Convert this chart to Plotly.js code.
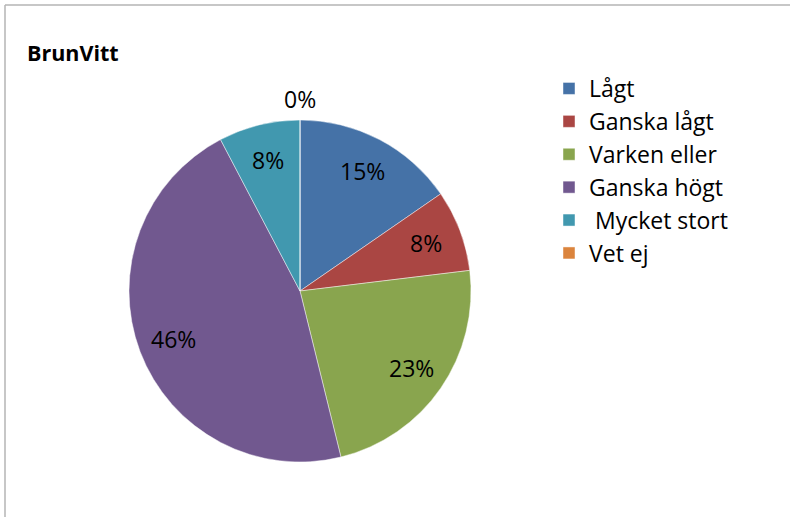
<!DOCTYPE html>
<html>
<head>
<meta charset="utf-8">
<script src="https://cdn.plot.ly/plotly-3.0.1.min.js"></script>
<style>
html,body{margin:0;padding:0;background:#fff;}
#chart{width:790px;height:517px;}
</style>
</head>
<body>
<div id="chart"></div>
<script>
const chartTitle = "BrunVitt";
const categories = ["Lågt", "Ganska lågt", "Varken eller", "Ganska högt", " Mycket stort", "Vet ej"];
const counts = [2, 1, 3, 6, 1, 0];
const sliceColors = ["#4572A7", "#AA4643", "#89A54E", "#71588F", "#4198AF", "#DB843D"];

const W = 790, H = 517;
const cx = 300, cy = 291, R = 171;

const trace = {
  type: "pie",
  labels: categories,
  values: counts,
  sort: false,
  direction: "clockwise",
  rotation: 0,
  marker: {colors: sliceColors, line: {color: "rgba(255,255,255,0.45)", width: 1}},
  textinfo: "none",
  domain: {x: [(cx - R) / W, (cx + R) / W], y: [1 - (cy + R) / H, 1 - (cy - R) / H]},
  hoverinfo: "label+percent"
};

// Data labels placed Excel-style along each slice's mid-angle (derived from the values)
const total = counts.reduce((a, b) => a + b, 0);
const annotations = [];
let cum = 0;
counts.forEach((v, i) => {
  const frac = v / total;
  const mid = (cum + frac / 2) * 2 * Math.PI;
  cum += frac;
  const r = v > 0 ? 0.79 * R : R + 21;
  const px = cx + r * Math.sin(mid);
  const py = cy - r * Math.cos(mid);
  annotations.push({
    xref: "paper", yref: "paper", x: px / W, y: 1 - py / H,
    xanchor: "center", yanchor: "middle", showarrow: false,
    text: Math.round(frac * 100) + "%",
    font: {family: "Open Sans, sans-serif", size: 23, color: "#000"}
  });
});

const layout = {
  width: W, height: H,
  margin: {l: 0, r: 0, t: 0, b: 0},
  paper_bgcolor: "#fff",
  showlegend: true,
  title: {text: "<b>" + chartTitle + "</b>", x: 27 / W, xanchor: "left", y: 1 - 53 / H, yanchor: "middle",
          font: {family: "Open Sans, sans-serif", size: 21.5, color: "#000"}},
  legend: {x: 549 / W, xanchor: "left", y: 1 - 67 / H, yanchor: "top",
           font: {family: "Open Sans, sans-serif", size: 23, color: "#000"}, itemwidth: 30, bgcolor: "rgba(0,0,0,0)"},
  annotations: annotations,
  shapes: [
    {type: "line", xref: "paper", yref: "paper", x0: 5 / W, x1: 1, y0: 1 - 5 / H, y1: 1 - 5 / H, line: {color: "#b4b4b4", width: 1.5}},
    {type: "line", xref: "paper", yref: "paper", x0: 5 / W, x1: 5 / W, y0: 0, y1: 1 - 5 / H, line: {color: "#b4b4b4", width: 1.5}}
  ]
};

Plotly.newPlot("chart", [trace], layout, {displayModeBar: false, staticPlot: true});
</script>
</body>
</html>
